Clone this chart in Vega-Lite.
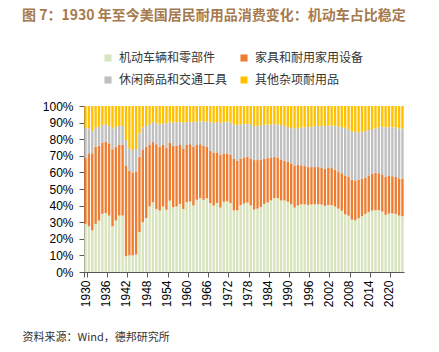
{
  "$schema": "https://vega.github.io/schema/vega-lite/v6.json",
  "autosize": "none",
  "width": 320,
  "height": 166,
  "padding": {"left": 84, "top": 106, "right": 35, "bottom": 80},
  "background": "white",
  "config": {"view": {"stroke": null}, "font": "Liberation Sans"},
  "title": {
    "text": "图 7：1930 年至今美国居民耐用品消费变化：机动车占比稳定",
    "anchor": "start",
    "frame": "bounds",
    "offset": 29,
    "font": "Noto Sans CJK SC",
    "fontSize": 14,
    "fontWeight": "bold",
    "color": "#a67a4e"
  },
  "data": {"values": [
    {"year":1930,"a":29,"b":40,"c":18,"d":13},
    {"year":1931,"a":27.5,"b":44,"c":15,"d":13.5},
    {"year":1932,"a":25,"b":46.5,"c":13.5,"d":15},
    {"year":1933,"a":29,"b":46.5,"c":11.5,"d":13},
    {"year":1934,"a":31,"b":45,"c":11.5,"d":12.5},
    {"year":1935,"a":35,"b":43,"c":10.5,"d":11.5},
    {"year":1936,"a":35.5,"b":43,"c":10.5,"d":11},
    {"year":1937,"a":34,"b":43.5,"c":10.5,"d":12},
    {"year":1938,"a":27.5,"b":46.5,"c":12.5,"d":13.5},
    {"year":1939,"a":31,"b":44.5,"c":12,"d":12.5},
    {"year":1940,"a":34,"b":42.5,"c":11.5,"d":12},
    {"year":1941,"a":34,"b":42.5,"c":11.5,"d":12},
    {"year":1942,"a":9.5,"b":54.5,"c":15.5,"d":20.5},
    {"year":1943,"a":10,"b":51,"c":13.5,"d":25.5},
    {"year":1944,"a":10,"b":50,"c":13.5,"d":26.5},
    {"year":1945,"a":10.5,"b":50,"c":13.5,"d":26},
    {"year":1946,"a":24,"b":45.5,"c":14,"d":16.5},
    {"year":1947,"a":30,"b":43.5,"c":13.5,"d":13},
    {"year":1948,"a":32.5,"b":43,"c":12.5,"d":12},
    {"year":1949,"a":39.5,"b":37,"c":12.5,"d":11},
    {"year":1950,"a":42,"b":36.5,"c":12,"d":9.5},
    {"year":1951,"a":38,"b":39,"c":12.5,"d":10.5},
    {"year":1952,"a":37,"b":38.5,"c":13.5,"d":11},
    {"year":1953,"a":39.5,"b":37,"c":13,"d":10.5},
    {"year":1954,"a":37.5,"b":37.5,"c":14.5,"d":10.5},
    {"year":1955,"a":43,"b":35,"c":12.5,"d":9.5},
    {"year":1956,"a":39,"b":37,"c":14,"d":10},
    {"year":1957,"a":39.5,"b":36.5,"c":14.3,"d":9.7},
    {"year":1958,"a":41,"b":35.5,"c":13.8,"d":9.7},
    {"year":1959,"a":38,"b":36.5,"c":15.5,"d":10},
    {"year":1960,"a":42,"b":34.5,"c":13.8,"d":9.7},
    {"year":1961,"a":42.5,"b":34.5,"c":13.3,"d":9.7},
    {"year":1962,"a":40,"b":35.5,"c":14.8,"d":9.7},
    {"year":1963,"a":43.5,"b":33,"c":14,"d":9.5},
    {"year":1964,"a":44.5,"b":32.5,"c":13.7,"d":9.3},
    {"year":1965,"a":43.5,"b":32.5,"c":14.9,"d":9.1},
    {"year":1966,"a":44.5,"b":31,"c":15.2,"d":9.3},
    {"year":1967,"a":41.5,"b":31.5,"c":17.3,"d":9.7},
    {"year":1968,"a":40,"b":32,"c":17.9,"d":10.1},
    {"year":1969,"a":41.6,"b":30.4,"c":18.3,"d":9.7},
    {"year":1970,"a":38.8,"b":31.7,"c":19.2,"d":10.3},
    {"year":1971,"a":42.3,"b":29.1,"c":18.9,"d":9.7},
    {"year":1972,"a":42.7,"b":28.7,"c":19.3,"d":9.3},
    {"year":1973,"a":41.6,"b":29.2,"c":19.1,"d":10.1},
    {"year":1974,"a":37.2,"b":31.2,"c":20.5,"d":11.1},
    {"year":1975,"a":37.2,"b":29.8,"c":21.5,"d":11.5},
    {"year":1976,"a":40.2,"b":28.2,"c":20.5,"d":11.1},
    {"year":1977,"a":41.2,"b":27.8,"c":20.1,"d":10.9},
    {"year":1978,"a":41.8,"b":27.6,"c":19.7,"d":10.9},
    {"year":1979,"a":40.2,"b":28.2,"c":20.7,"d":10.9},
    {"year":1980,"a":37.6,"b":29.8,"c":20.5,"d":12.1},
    {"year":1981,"a":38.2,"b":29.2,"c":20.5,"d":12.1},
    {"year":1982,"a":39.2,"b":28.6,"c":20.5,"d":11.7},
    {"year":1983,"a":41,"b":27.2,"c":20.5,"d":11.3},
    {"year":1984,"a":41.8,"b":26.8,"c":20.1,"d":11.3},
    {"year":1985,"a":43.1,"b":25.9,"c":19.9,"d":11.1},
    {"year":1986,"a":44.5,"b":24.9,"c":19.7,"d":10.9},
    {"year":1987,"a":44.5,"b":24.5,"c":19.9,"d":11.1},
    {"year":1988,"a":43.1,"b":24.7,"c":20.7,"d":11.5},
    {"year":1989,"a":43.1,"b":23.9,"c":20.9,"d":12.1},
    {"year":1990,"a":42.3,"b":24.1,"c":21.1,"d":12.5},
    {"year":1991,"a":40.8,"b":24.6,"c":21.3,"d":13.3},
    {"year":1992,"a":38.8,"b":25.4,"c":22.1,"d":13.7},
    {"year":1993,"a":40.2,"b":24.2,"c":22.3,"d":13.3},
    {"year":1994,"a":40.8,"b":23.4,"c":22.9,"d":12.9},
    {"year":1995,"a":40.8,"b":23,"c":23.3,"d":12.9},
    {"year":1996,"a":40.4,"b":22.8,"c":24.1,"d":12.7},
    {"year":1997,"a":40.6,"b":22.6,"c":24.3,"d":12.5},
    {"year":1998,"a":40.8,"b":22.4,"c":24.7,"d":12.1},
    {"year":1999,"a":40.8,"b":22.4,"c":24.7,"d":12.1},
    {"year":2000,"a":40.6,"b":22.3,"c":25,"d":12.1},
    {"year":2001,"a":39.8,"b":22.4,"c":25.7,"d":12.1},
    {"year":2002,"a":40.4,"b":22.6,"c":25.2,"d":11.8},
    {"year":2003,"a":40.2,"b":22.4,"c":25.6,"d":11.8},
    {"year":2004,"a":39.4,"b":22.2,"c":26.6,"d":11.8},
    {"year":2005,"a":38.2,"b":22.4,"c":27.1,"d":12.3},
    {"year":2006,"a":36.9,"b":22.6,"c":27.8,"d":12.7},
    {"year":2007,"a":34.8,"b":23.4,"c":28.7,"d":13.1},
    {"year":2008,"a":33.9,"b":23.7,"c":28.1,"d":14.3},
    {"year":2009,"a":31.5,"b":24.1,"c":29.2,"d":15.2},
    {"year":2010,"a":31.2,"b":23.8,"c":29.3,"d":15.7},
    {"year":2011,"a":32.4,"b":23.1,"c":28.7,"d":15.8},
    {"year":2012,"a":33.6,"b":22.6,"c":28.3,"d":15.5},
    {"year":2013,"a":35,"b":21.8,"c":28.1,"d":15.1},
    {"year":2014,"a":36.2,"b":22,"c":27.3,"d":14.5},
    {"year":2015,"a":37,"b":22.2,"c":26.9,"d":13.9},
    {"year":2016,"a":37.2,"b":22.6,"c":26.7,"d":13.5},
    {"year":2017,"a":37.2,"b":22.2,"c":27.7,"d":12.9},
    {"year":2018,"a":36.4,"b":22.4,"c":28.7,"d":12.5},
    {"year":2019,"a":34.5,"b":22.9,"c":29.7,"d":12.9},
    {"year":2020,"a":35.2,"b":22.6,"c":29.7,"d":12.5},
    {"year":2021,"a":35.3,"b":22.4,"c":29.4,"d":12.9},
    {"year":2022,"a":35,"b":22.3,"c":29.8,"d":12.9},
    {"year":2023,"a":34,"b":22.4,"c":30.1,"d":13.5},
    {"year":2024,"a":33.6,"b":22.6,"c":30.3,"d":13.5}
  ]},
  "transform": [
    {"fold": ["a", "b", "c", "d"], "as": ["key", "share"]}
  ],
  "mark": {"type": "bar"},
  "encoding": {
    "x": {
      "field": "year", "type": "ordinal",
      "scale": {"paddingInner": 0.3, "paddingOuter": 0.1},
      "axis": {
        "values": [1930,1936,1942,1948,1954,1960,1966,1972,1978,1984,1990,1996,2002,2008,2014,2020],
        "tickBand": "extent",
        "labelAngle": -90,
        "labelAlign": "right",
        "labelBaseline": "middle",
        "labelFontSize": 12,
        "labelColor": "#000000",
        "labelPadding": 3,
        "tickSize": 5,
        "tickColor": "#595959",
        "domainColor": "#595959",
        "title": "资料来源：Wind，德邦研究所",
        "titleFont": "Noto Sans CJK SC",
        "titleFontSize": 11,
        "titleFontWeight": "normal",
        "titleColor": "#333333",
        "titleAnchor": "start",
        "titleAlign": "left",
        "titleBaseline": "middle",
        "titleX": -62,
        "titleY": 65
      }
    },
    "y": {
      "field": "share", "type": "quantitative", "stack": "normalize",
      "scale": {"domain": [0, 1], "nice": false},
      "axis": {
        "values": [0,0.1,0.2,0.3,0.4,0.5,0.6,0.7,0.8,0.9,1],
        "format": ".0%",
        "grid": false,
        "title": null,
        "labelOverlap": false,
        "labelFontSize": 12,
        "labelColor": "#000000",
        "labelPadding": 6,
        "tickSize": 5,
        "tickColor": "#595959",
        "domainColor": "#595959"
      }
    },
    "color": {
      "field": "key", "type": "nominal",
      "scale": {"domain": ["a", "b", "c", "d"], "range": ["#d7e4bd", "#ed7d31", "#bfbfbf", "#ffc000"]},
      "legend": {
        "orient": "none",
        "legendX": 18,
        "legendY": -54,
        "columns": 2,
        "direction": "horizontal",
        "title": null,
        "symbolType": "square",
        "symbolSize": 50,
        "symbolStrokeWidth": 0,
        "labelFont": "Noto Sans CJK SC",
        "labelFontSize": 12,
        "labelColor": "#333333",
        "labelOffset": 5,
        "columnPadding": 10,
        "rowPadding": 10,
        "labelExpr": "datum.value == 'a' ? '机动车辆和零部件' : datum.value == 'b' ? '家具和耐用家用设备' : datum.value == 'c' ? '休闲商品和交通工具' : '其他杂项耐用品'"
      }
    },
    "order": {"field": "key", "type": "nominal", "sort": "ascending"}
  }
}
